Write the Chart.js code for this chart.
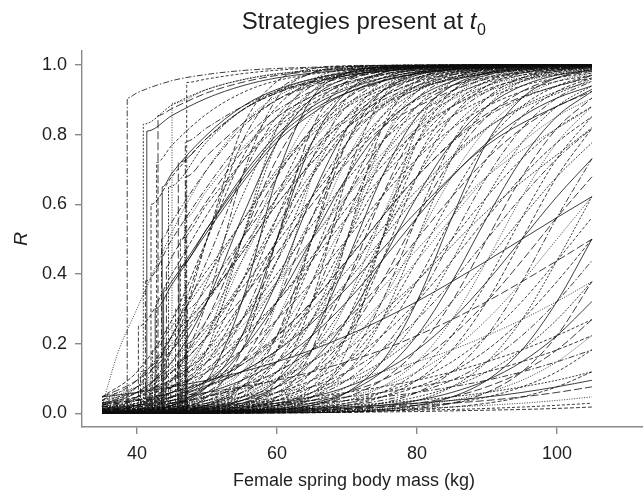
<!DOCTYPE html>
<html>
<head>
<meta charset="utf-8">
<script src="https://cdn.jsdelivr.net/npm/chart.js@4.4.1/dist/chart.umd.min.js"></script>
<style>
  html, body { margin: 0; padding: 0; background: #fff; }
  canvas { display: block; }
</style>
</head>
<body>
<canvas id="chart" width="643" height="492"></canvas>
<script>
// body masses where the smooth strategies are sampled
const MASS = [35, 40, 45, 50, 55, 60, 65, 70, 75, 80, 85, 90, 95, 100, 105];
const X_TICKS = [40, 60, 80, 100];
const Y_TICKS = [0, 0.2, 0.4, 0.6, 0.8, 1.0];

// R at each MASS value, one row per strategy
const CURVES = [
  [0.047,0.119,0.269,0.5,0.731,0.881,0.953,0.982,0.993,0.998,0.999,1,1,1,1],
  [0.037,0.095,0.223,0.438,0.679,0.852,0.940,0.977,0.991,0.997,0.999,1,1,1,1],
  [0.029,0.076,0.182,0.378,0.622,0.818,0.924,0.971,0.989,0.996,0.998,0.999,1,1,1],
  [0.023,0.060,0.148,0.321,0.562,0.777,0.905,0.963,0.986,0.995,0.998,0.999,1,1,1],
  [0.018,0.047,0.119,0.269,0.5,0.731,0.881,0.953,0.982,0.993,0.998,0.999,1,1,1],
  [0.014,0.037,0.095,0.223,0.438,0.679,0.852,0.940,0.977,0.991,0.997,0.999,1,1,1],
  [0.011,0.029,0.076,0.182,0.378,0.622,0.818,0.924,0.971,0.989,0.996,0.998,0.999,1,1],
  [0.009,0.023,0.060,0.148,0.321,0.562,0.777,0.905,0.963,0.986,0.995,0.998,0.999,1,1],
  [0.007,0.018,0.047,0.119,0.269,0.5,0.731,0.881,0.953,0.982,0.993,0.998,0.999,1,1],
  [0.005,0.014,0.037,0.095,0.223,0.438,0.679,0.852,0.940,0.977,0.991,0.997,0.999,1,1],
  [0.004,0.011,0.029,0.076,0.182,0.378,0.622,0.818,0.924,0.971,0.989,0.996,0.998,0.999,1],
  [0.003,0.009,0.023,0.060,0.148,0.321,0.562,0.777,0.905,0.963,0.986,0.995,0.998,0.999,1],
  [0.002,0.007,0.018,0.047,0.119,0.269,0.5,0.731,0.881,0.953,0.982,0.993,0.998,0.999,1],
  [0.002,0.005,0.014,0.037,0.095,0.223,0.438,0.679,0.852,0.940,0.977,0.991,0.997,0.999,1],
  [0.002,0.004,0.011,0.029,0.076,0.182,0.378,0.622,0.818,0.924,0.971,0.989,0.996,0.998,0.999],
  [0.001,0.003,0.009,0.023,0.060,0.148,0.321,0.562,0.777,0.905,0.963,0.986,0.995,0.998,0.999],
  [0.001,0.002,0.007,0.018,0.047,0.119,0.269,0.5,0.731,0.881,0.953,0.982,0.993,0.998,0.999],
  [0.001,0.002,0.005,0.014,0.037,0.095,0.223,0.438,0.679,0.852,0.940,0.977,0.991,0.997,0.999],
  [0.001,0.002,0.004,0.011,0.029,0.076,0.182,0.378,0.622,0.818,0.924,0.971,0.989,0.996,0.998],
  [0,0.001,0.003,0.009,0.023,0.060,0.148,0.321,0.562,0.777,0.905,0.963,0.986,0.995,0.998],
  [0,0.001,0.002,0.007,0.018,0.047,0.119,0.269,0.5,0.731,0.881,0.953,0.982,0.993,0.998],
  [0,0.001,0.002,0.005,0.014,0.037,0.095,0.223,0.438,0.679,0.852,0.940,0.977,0.991,0.997],
  [0,0,0.001,0.003,0.009,0.023,0.060,0.148,0.321,0.562,0.777,0.905,0.963,0.986,0.995],
  [0,0,0.001,0.002,0.007,0.018,0.047,0.119,0.269,0.5,0.731,0.881,0.953,0.982,0.993],
  [0,0,0,0.001,0.003,0.009,0.023,0.060,0.148,0.321,0.562,0.777,0.905,0.963,0.986],
  [0.047,0.095,0.182,0.321,0.5,0.679,0.818,0.905,0.953,0.977,0.989,0.995,0.998,0.999,0.999],
  [0.037,0.076,0.148,0.269,0.438,0.622,0.777,0.881,0.940,0.971,0.986,0.993,0.997,0.998,0.999],
  [0.029,0.060,0.119,0.223,0.378,0.562,0.731,0.852,0.924,0.963,0.982,0.991,0.996,0.998,0.999],
  [0.023,0.047,0.095,0.182,0.321,0.5,0.679,0.818,0.905,0.953,0.977,0.989,0.995,0.998,0.999],
  [0.018,0.037,0.076,0.148,0.269,0.438,0.622,0.777,0.881,0.940,0.971,0.986,0.993,0.997,0.998],
  [0.014,0.029,0.060,0.119,0.223,0.378,0.562,0.731,0.852,0.924,0.963,0.982,0.991,0.996,0.998],
  [0.011,0.023,0.047,0.095,0.182,0.321,0.5,0.679,0.818,0.905,0.953,0.977,0.989,0.995,0.998],
  [0.009,0.018,0.037,0.076,0.148,0.269,0.438,0.622,0.777,0.881,0.940,0.971,0.986,0.993,0.997],
  [0.007,0.014,0.029,0.060,0.119,0.223,0.378,0.562,0.731,0.852,0.924,0.963,0.982,0.991,0.996],
  [0.005,0.011,0.023,0.047,0.095,0.182,0.321,0.5,0.679,0.818,0.905,0.953,0.977,0.989,0.995],
  [0.004,0.009,0.018,0.037,0.076,0.148,0.269,0.438,0.622,0.777,0.881,0.940,0.971,0.986,0.993],
  [0.003,0.007,0.014,0.029,0.060,0.119,0.223,0.378,0.562,0.731,0.852,0.924,0.963,0.982,0.991],
  [0.002,0.005,0.011,0.023,0.047,0.095,0.182,0.321,0.5,0.679,0.818,0.905,0.953,0.977,0.989],
  [0.002,0.004,0.009,0.018,0.037,0.076,0.148,0.269,0.438,0.622,0.777,0.881,0.940,0.971,0.986],
  [0.002,0.003,0.007,0.014,0.029,0.060,0.119,0.223,0.378,0.562,0.731,0.852,0.924,0.963,0.982],
  [0.001,0.002,0.005,0.011,0.023,0.047,0.095,0.182,0.321,0.5,0.679,0.818,0.905,0.953,0.977],
  [0.001,0.002,0.004,0.009,0.018,0.037,0.076,0.148,0.269,0.438,0.622,0.777,0.881,0.940,0.971],
  [0.001,0.002,0.003,0.007,0.014,0.029,0.060,0.119,0.223,0.378,0.562,0.731,0.852,0.924,0.963],
  [0.001,0.001,0.002,0.005,0.011,0.023,0.047,0.095,0.182,0.321,0.5,0.679,0.818,0.905,0.953],
  [0,0.001,0.002,0.004,0.009,0.018,0.037,0.076,0.148,0.269,0.438,0.622,0.777,0.881,0.940],
  [0,0.001,0.002,0.003,0.007,0.014,0.029,0.060,0.119,0.223,0.378,0.562,0.731,0.852,0.924],
  [0,0.001,0.001,0.002,0.005,0.011,0.023,0.047,0.095,0.182,0.321,0.5,0.679,0.818,0.905],
  [0,0,0.001,0.002,0.004,0.009,0.018,0.037,0.076,0.148,0.269,0.438,0.622,0.777,0.881],
  [0,0,0.001,0.002,0.003,0.007,0.014,0.029,0.060,0.119,0.223,0.378,0.562,0.731,0.852],
  [0,0,0.001,0.001,0.002,0.005,0.011,0.023,0.047,0.095,0.182,0.321,0.5,0.679,0.818],
  [0,0,0,0.001,0.002,0.003,0.007,0.014,0.029,0.060,0.119,0.223,0.378,0.562,0.731],
  [0,0,0,0,0.001,0.002,0.004,0.009,0.018,0.037,0.076,0.148,0.269,0.438,0.622],
  [0,0,0,0,0.001,0.001,0.002,0.005,0.011,0.023,0.047,0.095,0.182,0.321,0.5],
  [0,0,0,0,0,0.001,0.002,0.003,0.007,0.014,0.029,0.060,0.119,0.223,0.378],
  [0.047,0.076,0.119,0.182,0.269,0.378,0.5,0.622,0.731,0.818,0.881,0.924,0.953,0.971,0.982],
  [0.037,0.060,0.095,0.148,0.223,0.321,0.438,0.562,0.679,0.777,0.852,0.905,0.940,0.963,0.977],
  [0.029,0.047,0.076,0.119,0.182,0.269,0.378,0.5,0.622,0.731,0.818,0.881,0.924,0.953,0.971],
  [0.023,0.037,0.060,0.095,0.148,0.223,0.321,0.438,0.562,0.679,0.777,0.852,0.905,0.940,0.963],
  [0.018,0.029,0.047,0.076,0.119,0.182,0.269,0.378,0.5,0.622,0.731,0.818,0.881,0.924,0.953],
  [0.014,0.023,0.037,0.060,0.095,0.148,0.223,0.321,0.438,0.562,0.679,0.777,0.852,0.905,0.940],
  [0.011,0.018,0.029,0.047,0.076,0.119,0.182,0.269,0.378,0.5,0.622,0.731,0.818,0.881,0.924],
  [0.009,0.014,0.023,0.037,0.060,0.095,0.148,0.223,0.321,0.438,0.562,0.679,0.777,0.852,0.905],
  [0.007,0.011,0.018,0.029,0.047,0.076,0.119,0.182,0.269,0.378,0.5,0.622,0.731,0.818,0.881],
  [0.005,0.009,0.014,0.023,0.037,0.060,0.095,0.148,0.223,0.321,0.438,0.562,0.679,0.777,0.852],
  [0.004,0.007,0.011,0.018,0.029,0.047,0.076,0.119,0.182,0.269,0.378,0.5,0.622,0.731,0.818],
  [0.003,0.005,0.009,0.014,0.023,0.037,0.060,0.095,0.148,0.223,0.321,0.438,0.562,0.679,0.777],
  [0.002,0.004,0.007,0.011,0.018,0.029,0.047,0.076,0.119,0.182,0.269,0.378,0.5,0.622,0.731],
  [0.002,0.003,0.005,0.009,0.014,0.023,0.037,0.060,0.095,0.148,0.223,0.321,0.438,0.562,0.679],
  [0.002,0.002,0.004,0.007,0.011,0.018,0.029,0.047,0.076,0.119,0.182,0.269,0.378,0.5,0.622],
  [0.001,0.002,0.003,0.005,0.009,0.014,0.023,0.037,0.060,0.095,0.148,0.223,0.321,0.438,0.562],
  [0.001,0.002,0.002,0.004,0.007,0.011,0.018,0.029,0.047,0.076,0.119,0.182,0.269,0.378,0.5],
  [0.001,0.001,0.002,0.003,0.005,0.009,0.014,0.023,0.037,0.060,0.095,0.148,0.223,0.321,0.438],
  [0.001,0.001,0.002,0.002,0.004,0.007,0.011,0.018,0.029,0.047,0.076,0.119,0.182,0.269,0.378],
  [0,0.001,0.001,0.002,0.003,0.005,0.009,0.014,0.023,0.037,0.060,0.095,0.148,0.223,0.321],
  [0,0.001,0.001,0.002,0.002,0.004,0.007,0.011,0.018,0.029,0.047,0.076,0.119,0.182,0.269],
  [0,0.001,0.001,0.001,0.002,0.003,0.005,0.009,0.014,0.023,0.037,0.060,0.095,0.148,0.223],
  [0,0,0.001,0.001,0.002,0.002,0.004,0.007,0.011,0.018,0.029,0.047,0.076,0.119,0.182],
  [0,0,0,0.001,0.001,0.002,0.002,0.004,0.007,0.011,0.018,0.029,0.047,0.076,0.119],
  [0.023,0.076,0.223,0.5,0.777,0.924,0.977,0.993,0.998,0.999,1,1,1,1,1],
  [0.007,0.023,0.076,0.223,0.5,0.777,0.924,0.977,0.993,0.998,0.999,1,1,1,1],
  [0.002,0.007,0.023,0.076,0.223,0.5,0.777,0.924,0.977,0.993,0.998,0.999,1,1,1],
  [0.001,0.002,0.007,0.023,0.076,0.223,0.5,0.777,0.924,0.977,0.993,0.998,0.999,1,1],
  [0,0.001,0.002,0.007,0.023,0.076,0.223,0.5,0.777,0.924,0.977,0.993,0.998,0.999,1],
  [0,0,0.001,0.002,0.007,0.023,0.076,0.223,0.5,0.777,0.924,0.977,0.993,0.998,0.999],
  [0.011,0.047,0.182,0.5,0.818,0.953,0.989,0.998,0.999,1,1,1,1,1,1],
  [0.005,0.023,0.095,0.321,0.679,0.905,0.977,0.995,0.999,1,1,1,1,1,1],
  [0.002,0.011,0.047,0.182,0.5,0.818,0.953,0.989,0.998,0.999,1,1,1,1,1],
  [0.001,0.005,0.023,0.095,0.321,0.679,0.905,0.977,0.995,0.999,1,1,1,1,1],
  [0.001,0.002,0.011,0.047,0.182,0.5,0.818,0.953,0.989,0.998,0.999,1,1,1,1],
  [0,0.001,0.005,0.023,0.095,0.321,0.679,0.905,0.977,0.995,0.999,1,1,1,1],
  [0,0.001,0.002,0.011,0.047,0.182,0.5,0.818,0.953,0.989,0.998,0.999,1,1,1],
  [0,0,0.001,0.005,0.023,0.095,0.321,0.679,0.905,0.977,0.995,0.999,1,1,1],
  [0,0,0.001,0.002,0.011,0.047,0.182,0.5,0.818,0.953,0.989,0.998,0.999,1,1],
  [0,0,0,0.001,0.002,0.011,0.047,0.182,0.5,0.818,0.953,0.989,0.998,0.999,1],
  [0.047,0.060,0.076,0.095,0.119,0.148,0.182,0.223,0.269,0.321,0.378,0.438,0.5,0.562,0.622],
  [0.029,0.037,0.047,0.060,0.076,0.095,0.119,0.148,0.182,0.223,0.269,0.321,0.378,0.438,0.5],
  [0.018,0.023,0.029,0.037,0.047,0.060,0.076,0.095,0.119,0.148,0.182,0.223,0.269,0.321,0.378],
  [0.011,0.014,0.018,0.023,0.029,0.037,0.047,0.060,0.076,0.095,0.119,0.148,0.182,0.223,0.269],
  [0.009,0.011,0.014,0.018,0.023,0.029,0.037,0.047,0.060,0.076,0.095,0.119,0.148,0.182,0.223],
  [0.007,0.009,0.011,0.014,0.018,0.023,0.029,0.037,0.047,0.060,0.076,0.095,0.119,0.148,0.182],
  [0.004,0.005,0.007,0.009,0.011,0.014,0.018,0.023,0.029,0.037,0.047,0.060,0.076,0.095,0.119],
  [0.003,0.004,0.005,0.007,0.009,0.011,0.014,0.018,0.023,0.029,0.037,0.047,0.060,0.076,0.095],
  [0.002,0.003,0.004,0.005,0.007,0.009,0.011,0.014,0.018,0.023,0.029,0.037,0.047,0.060,0.076],
  [0.002,0.002,0.002,0.003,0.004,0.005,0.007,0.009,0.011,0.014,0.018,0.023,0.029,0.037,0.047],
  [0.001,0.001,0.002,0.002,0.002,0.003,0.004,0.005,0.007,0.009,0.011,0.014,0.018,0.023,0.029],
  [0.001,0.001,0.001,0.001,0.001,0.002,0.002,0.003,0.004,0.005,0.007,0.009,0.011,0.014,0.018]
];

// strategies that stay at R = 0 up to a threshold mass and then jump: [mass, R] from the jump on
const JUMP_CURVES = [
  [[38.6,0.905],[40,0.92],[45,0.955],[50,0.973],[55,0.984],[60,0.99],[70,0.996],[80,0.999],[105,1]],
  [[40.9,0.83],[45,0.885],[50,0.93],[55,0.957],[60,0.974],[70,0.99],[80,0.997],[90,0.999],[105,1]],
  [[41.4,0.81],[45,0.855],[50,0.905],[55,0.94],[60,0.963],[70,0.986],[80,0.995],[90,0.998],[105,1]],
  [[43,0.855],[45,0.875],[50,0.92],[55,0.95],[60,0.97],[70,0.989],[80,0.996],[105,1]],
  [[45,0.89],[50,0.93],[55,0.958],[60,0.975],[70,0.991],[80,0.997],[105,1]],
  [[47.1,0.95],[50,0.96],[55,0.975],[60,0.985],[70,0.995],[105,1]],
  [[42,0.6],[45,0.68],[50,0.79],[55,0.87],[60,0.92],[65,0.955],[70,0.975],[80,0.993],[90,0.998],[105,1]],
  [[43.5,0.5],[45,0.55],[50,0.7],[55,0.82],[60,0.9],[65,0.945],[70,0.97],[80,0.992],[105,1]],
  [[44.5,0.65],[50,0.78],[55,0.87],[60,0.925],[65,0.96],[70,0.979],[80,0.994],[105,1]],
  [[46,0.42],[50,0.53],[55,0.67],[60,0.79],[65,0.87],[70,0.92],[80,0.975],[90,0.993],[105,0.999]],
  [[47,0.68],[50,0.74],[55,0.83],[60,0.9],[65,0.94],[70,0.965],[80,0.99],[105,1]],
  [[46.5,0.26],[50,0.33],[55,0.46],[60,0.6],[65,0.72],[70,0.82],[75,0.89],[80,0.935],[90,0.978],[105,0.997]],
  [[45.5,0.3],[50,0.41],[55,0.55],[60,0.69],[65,0.8],[70,0.88],[80,0.96],[90,0.988],[105,0.998]],
  [[44,0.2],[45,0.22],[50,0.33],[55,0.46],[60,0.6],[65,0.72],[70,0.82],[80,0.93],[90,0.975],[105,0.995]],
  [[40.5,0.12],[45,0.2],[50,0.32],[55,0.47],[60,0.62],[65,0.75],[70,0.84],[80,0.94],[90,0.98],[105,0.997]],
  [[42.5,0.1],[45,0.13],[50,0.24],[55,0.38],[60,0.54],[65,0.69],[70,0.8],[80,0.93],[90,0.975],[105,0.996]],
  [[43.8,0.35],[45,0.38],[50,0.53],[55,0.68],[60,0.8],[65,0.88],[70,0.93],[80,0.98],[105,0.999]],
  [[45.8,0.15],[50,0.22],[55,0.33],[60,0.46],[65,0.6],[70,0.72],[75,0.82],[80,0.88],[90,0.96],[105,0.994]],
  [[46.8,0.56],[50,0.64],[55,0.76],[60,0.85],[65,0.91],[70,0.95],[80,0.985],[105,1]],
  [[41.8,0.07],[45,0.1],[50,0.17],[55,0.27],[60,0.4],[65,0.54],[70,0.67],[75,0.78],[80,0.86],[90,0.95],[105,0.992]],
  [[44.8,0.08],[50,0.13],[55,0.21],[60,0.32],[65,0.45],[70,0.59],[75,0.71],[80,0.81],[90,0.93],[105,0.988]],
  [[47.2,0.3],[50,0.36],[55,0.5],[60,0.64],[65,0.76],[70,0.85],[80,0.95],[90,0.985],[105,0.999]],
  [[43.2,0.05],[45,0.06],[50,0.09],[55,0.14],[60,0.21],[65,0.3],[70,0.41],[75,0.53],[80,0.64],[90,0.82],[105,0.96]],
  [[46.3,0.06],[50,0.08],[55,0.12],[60,0.18],[65,0.26],[70,0.36],[75,0.47],[80,0.58],[90,0.77],[105,0.93]],
  [[39.5,0.04],[45,0.06],[50,0.09],[55,0.14],[60,0.22],[65,0.32],[70,0.44],[80,0.68],[90,0.86],[105,0.97]],
  [[47,0.12],[50,0.16],[55,0.25],[60,0.37],[65,0.5],[70,0.63],[80,0.84],[90,0.94],[105,0.99]],
  [[42.8,0.72],[45,0.77],[50,0.86],[55,0.92],[60,0.955],[70,0.985],[80,0.996],[105,1]],
  [[40.2,0.25],[45,0.4],[50,0.57],[55,0.72],[60,0.83],[65,0.9],[70,0.945],[80,0.985],[105,1]],
  [[41.2,0.38],[45,0.5],[50,0.65],[55,0.78],[60,0.87],[70,0.96],[80,0.99],[105,1]],
  [[42.2,0.18],[45,0.25],[50,0.39],[55,0.55],[60,0.7],[65,0.81],[70,0.89],[80,0.965],[90,0.99],[105,0.999]],
  [[43.6,0.65],[45,0.69],[50,0.8],[55,0.88],[60,0.93],[70,0.978],[80,0.994],[105,1]],
  [[44.2,0.42],[45,0.45],[50,0.61],[55,0.75],[60,0.85],[65,0.91],[70,0.95],[80,0.987],[105,1]],
  [[45.2,0.03],[50,0.05],[55,0.08],[60,0.12],[65,0.18],[70,0.26],[75,0.36],[80,0.47],[90,0.68],[105,0.88]],
  [[46.2,0.5],[50,0.6],[55,0.72],[60,0.82],[65,0.89],[70,0.935],[80,0.98],[105,1]],
  [[47,0.2],[50,0.25],[55,0.36],[60,0.49],[65,0.62],[70,0.74],[80,0.9],[90,0.965],[105,0.996]],
  [[46.9,0.78],[50,0.82],[55,0.88],[60,0.925],[70,0.97],[80,0.99],[105,1]],
  [[44.6,0.03],[50,0.05],[55,0.07],[60,0.1],[65,0.15],[70,0.21],[75,0.29],[80,0.38],[90,0.58],[105,0.82]],
  [[42.6,0.3],[45,0.37],[50,0.52],[55,0.66],[60,0.78],[65,0.86],[70,0.92],[80,0.975],[105,0.999]],
  [[45.9,0.72],[50,0.79],[55,0.87],[60,0.92],[70,0.97],[80,0.99],[105,1]]
];

// the one strategy that climbs straight from the lightest mass
const EARLY_CURVE = [[35,0.02],[37.2,0.17],[40,0.3],[45,0.52],[50,0.7],[55,0.83],[60,0.91],[65,0.95],[70,0.975],[80,0.994],[105,1]];

const FONT = '"Liberation Sans", Arial, Helvetica, sans-serif';
const INK = '#1e1e1e';
const LINE = '#0d0d0d';
const AXIS = '#8a8a8a';
const DASHES = [[4, 2], [1, 1.5], [], [6, 2, 1.5, 2], [3, 2], [8, 3], [2, 1.5]];

const datasets = [];
function addLine(points) {
  const i = datasets.length;
  datasets.push({
    data: points,
    borderColor: LINE,
    borderWidth: 0.8,
    borderDash: DASHES[(i * 3) % DASHES.length],
    pointRadius: 0,
    fill: false,
    cubicInterpolationMode: 'monotone'
  });
}

CURVES.forEach(row => addLine(MASS.map((m, i) => ({ x: m, y: row[i] }))));
JUMP_CURVES.forEach(pts => {
  const start = pts[0][0];
  addLine([{ x: 35, y: 0 }, { x: start, y: 0 }].concat(pts.map(p => ({ x: p[0], y: p[1] }))));
});
addLine(EARLY_CURVE.map(p => ({ x: p[0], y: p[1] })));

// title and axis names, drawn by hand for the italic R and the subscript
const textPlugin = {
  id: 'texts',
  afterDraw(chart) {
    const ctx = chart.ctx;
    const area = chart.chartArea;
    ctx.save();
    ctx.fillStyle = INK;
    ctx.textBaseline = 'alphabetic';

    const lead = 'Strategies present at ';
    ctx.font = '24px ' + FONT;
    const w1 = ctx.measureText(lead).width;
    ctx.font = 'italic 24px ' + FONT;
    const w2 = ctx.measureText('t').width;
    ctx.font = '16px ' + FONT;
    const w3 = ctx.measureText('0').width;
    let x = (area.left + area.right) / 2 - (w1 + w2 + w3) / 2 + 1;
    ctx.textAlign = 'left';
    ctx.font = '24px ' + FONT;
    ctx.fillText(lead, x, 29);
    x += w1;
    ctx.font = 'italic 24px ' + FONT;
    ctx.fillText('t', x, 29);
    x += w2 + 0.5;
    ctx.font = '16px ' + FONT;
    ctx.fillText('0', x, 35);

    ctx.font = '18px ' + FONT;
    ctx.textAlign = 'center';
    ctx.fillText('Female spring body mass (kg)', 354, 486);

    ctx.translate(27, 239);
    ctx.rotate(-Math.PI / 2);
    ctx.font = 'italic 19px ' + FONT;
    ctx.fillText('R', 0, 0);
    ctx.restore();
  }
};

new Chart(document.getElementById('chart'), {
  type: 'line',
  data: { datasets },
  options: {
    responsive: false,
    animation: false,
    devicePixelRatio: 1,
    layout: { padding: { top: 51, right: 0, left: 0, bottom: 0 } },
    plugins: { legend: { display: false }, tooltip: { enabled: false }, title: { display: false } },
    scales: {
      x: {
        type: 'linear',
        min: 32.14,
        max: 112.3,
        afterFit(scale) { scale.height = 65; },
        afterBuildTicks(scale) { scale.ticks = X_TICKS.map(v => ({ value: v })); },
        ticks: { color: INK, font: { size: 18, family: FONT }, padding: 9, maxRotation: 0, callback: v => String(v) },
        grid: { drawOnChartArea: false, drawTicks: true, tickLength: 7, color: AXIS, lineWidth: 1.4 },
        border: { display: true, color: AXIS, width: 1.4 }
      },
      y: {
        type: 'linear',
        min: -0.0393,
        max: 1.0402,
        afterFit(scale) { scale.width = 82; },
        afterBuildTicks(scale) { scale.ticks = Y_TICKS.map(v => ({ value: v })); },
        ticks: { color: INK, font: { size: 18, family: FONT }, padding: 8, callback: v => v.toFixed(1) },
        grid: { drawOnChartArea: false, drawTicks: true, tickLength: 7, color: AXIS, lineWidth: 1.4 },
        border: { display: true, color: AXIS, width: 1.4 }
      }
    }
  },
  plugins: [textPlugin]
});
</script>
</body>
</html>
